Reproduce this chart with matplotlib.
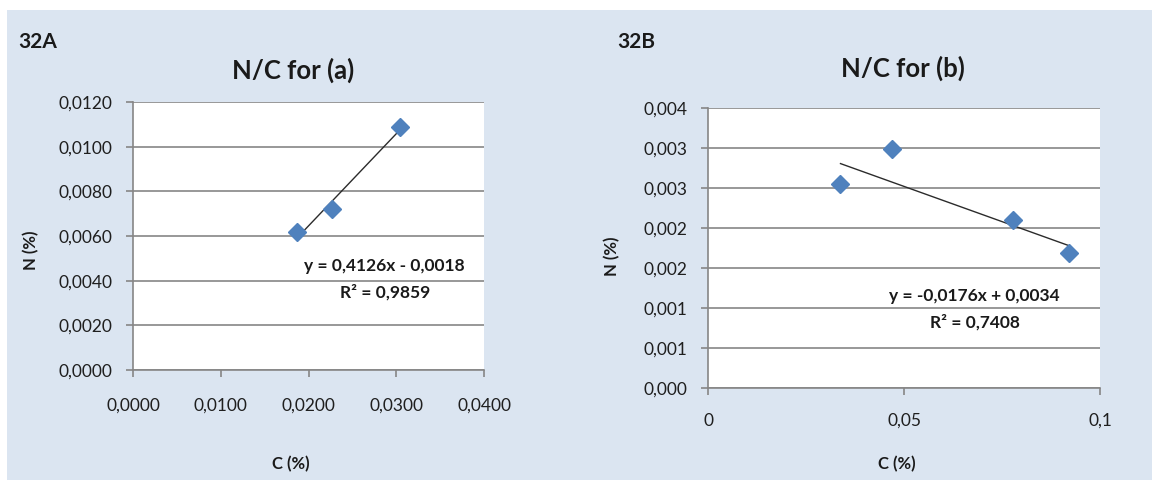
import matplotlib
matplotlib.use("Agg")
import matplotlib.pyplot as plt
from matplotlib.patches import Rectangle

# panel A data
c_a = [0.0187, 0.0227, 0.0304]
n_a = [0.0062, 0.0072, 0.0109]
slope_a, icpt_a = 0.4126, -0.0018
eq_a = "y = 0,4126x - 0,0018"
r2_a = "R² = 0,9859"
xticks_a = [0.0, 0.01, 0.02, 0.03, 0.04]
xlabels_a = ["0,0000", "0,0100", "0,0200", "0,0300", "0,0400"]
yticks_a = [0.0, 0.002, 0.004, 0.006, 0.008, 0.010, 0.012]
ylabels_a = ["0,0000", "0,0020", "0,0040", "0,0060", "0,0080", "0,0100", "0,0120"]

# panel B data
c_b = [0.0338, 0.047, 0.0779, 0.092]
n_b = [0.00255, 0.00299, 0.0021, 0.00169]
slope_b, icpt_b = -0.0176, 0.0034
eq_b = "y = -0,0176x + 0,0034"
r2_b = "R² = 0,7408"
xticks_b = [0.0, 0.05, 0.1]
xlabels_b = ["0", "0,05", "0,1"]
yticks_b = [0.0, 0.0005, 0.001, 0.0015, 0.002, 0.0025, 0.003, 0.0035]
ylabels_b = ["0,000", "0,001", "0,001", "0,002", "0,002", "0,003", "0,003", "0,004"]

W, H = 1152, 480
BG = "#dbe5f1"
GRID = "#868686"
BLUE = "#4f81bd"
FONT = "Lato"

plt.rcParams["font.family"] = [FONT, "DejaVu Sans"]

fig = plt.figure(figsize=(W / 100, H / 100), dpi=100)
fig.patch.set_facecolor("white")
fig.patches.append(Rectangle((7 / W, 0), 1 - 7 / W, 1 - 10 / H,
                             transform=fig.transFigure, facecolor=BG,
                             edgecolor="none", zorder=-10))


def px_axes(x0, y0, x1, y1):
    return fig.add_axes([x0 / W, 1 - y1 / H, (x1 - x0) / W, (y1 - y0) / H])


def draw_panel(ax, cx, ny, slope, icpt, xticks, xlabels, yticks, ylabels, xpad):
    ax.set_facecolor("white")
    ax.set_xlim(xticks[0], xticks[-1])
    ax.set_ylim(yticks[0], yticks[-1])
    ax.set_xticks(xticks)
    ax.set_xticklabels(xlabels)
    ax.set_yticks(yticks)
    ax.set_yticklabels(ylabels)
    ax.yaxis.grid(True, color=GRID, lw=1.2)
    ax.set_axisbelow(True)
    for s in ("top", "right"):
        ax.spines[s].set_visible(False)
    for s in ("left", "bottom"):
        ax.spines[s].set_color(GRID)
        ax.spines[s].set_linewidth(1.2)
    ax.tick_params(direction="out", length=5, width=1.2, color=GRID,
                   labelsize=12.5, labelcolor="#1f1f1f")
    ax.tick_params(axis="x", pad=xpad)
    ax.tick_params(axis="y", pad=10)
    ax.plot(cx, ny, linestyle="none", marker="D", ms=9, color=BLUE,
            mec=BLUE, zorder=3, clip_on=False)
    xs = [min(cx), max(cx)]
    ax.plot(xs, [slope * x + icpt for x in xs], color="#2b2b2b", lw=1, zorder=2)


ax_a = px_axes(133, 102, 484, 370)
draw_panel(ax_a, c_a, n_a, slope_a, icpt_a, xticks_a, xlabels_a,
           yticks_a, ylabels_a, xpad=15)
ax_b = px_axes(708, 108, 1100, 388)
draw_panel(ax_b, c_b, n_b, slope_b, icpt_b, xticks_b, xlabels_b,
           yticks_b, ylabels_b, xpad=13)

# titles, panel tags, axis labels and trendline equations
txt = dict(fontweight="bold", color="#1a1a1a")
fig.text(293 / W, 1 - 70 / H, "N/C for (a)", ha="center", va="center", fontsize=18.5, **txt)
fig.text(903 / W, 1 - 68 / H, "N/C for (b)", ha="center", va="center", fontsize=18.5, **txt)
fig.text(18 / W, 1 - 42 / H, "32A", ha="left", va="center", fontsize=15, **txt)
fig.text(617 / W, 1 - 42 / H, "32B", ha="left", va="center", fontsize=15, **txt)
fig.text(31 / W, 1 - 250 / H, "N (%)", ha="center", va="center", rotation=90, fontsize=12, **txt)
fig.text(612 / W, 1 - 256 / H, "N (%)", ha="center", va="center", rotation=90, fontsize=12, **txt)
fig.text(291 / W, 1 - 464 / H, "C (%)", ha="center", va="center", fontsize=12, **txt)
fig.text(897 / W, 1 - 464 / H, "C (%)", ha="center", va="center", fontsize=12, **txt)
fig.text(384 / W, 1 - 266 / H, eq_a, ha="center", va="center", fontsize=12.5, **txt)
fig.text(385 / W, 1 - 292 / H, r2_a, ha="center", va="center", fontsize=12.5, **txt)
fig.text(974 / W, 1 - 296 / H, eq_b, ha="center", va="center", fontsize=12.5, **txt)
fig.text(975 / W, 1 - 322 / H, r2_b, ha="center", va="center", fontsize=12.5, **txt)

fig.savefig("out.png", dpi=100)
plt.close(fig)
